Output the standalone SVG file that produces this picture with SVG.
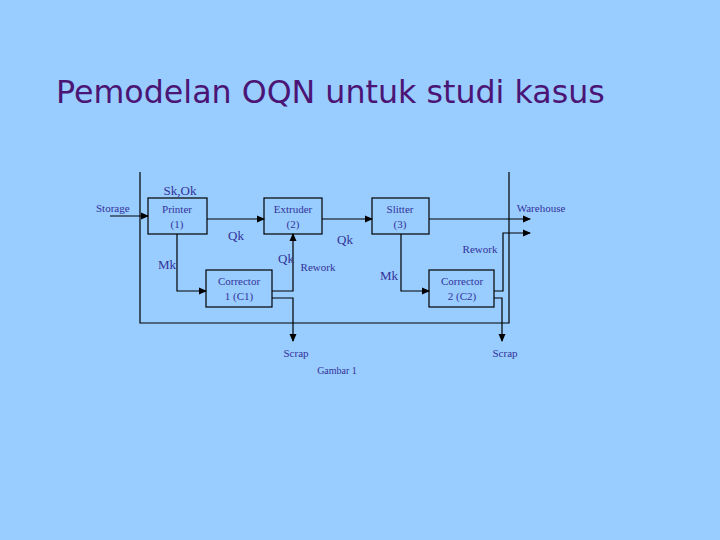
<svg xmlns="http://www.w3.org/2000/svg" width="720" height="540" viewBox="0 0 720 540">
<defs>
<marker id="ar" markerWidth="8" markerHeight="8" refX="7" refY="4" orient="auto" markerUnits="userSpaceOnUse"><path d="M0,0.5 L8,4 L0,7.5 Z" fill="#000"/></marker>
<style>
.b{fill:none;stroke:#000;stroke-width:1.2}
.l{fill:none;stroke:#000;stroke-width:1.2}
.a{fill:none;stroke:#000;stroke-width:1.2;marker-end:url(#ar)}
text{font-family:"Liberation Serif",serif;fill:#333399;font-size:11px}
.c{text-anchor:middle}
.m{font-size:13px}
</style>
</defs>
<rect width="720" height="540" fill="#99CCFF"/>
<text x="56" y="103" style="font-family:'DejaVu Sans',sans-serif;font-size:31.7px;fill:#4B1575">Pemodelan OQN untuk studi kasus</text>
<g id="boundary"><path class="l" d="M140,172 V323 H509 V172"/></g>
<g id="printer"><rect class="b" x="148" y="198" width="59" height="36"/><text class="c" x="177" y="213">Printer</text><text class="c" x="177" y="228">(1)</text></g>
<g id="extruder"><rect class="b" x="264" y="198" width="58" height="36"/><text class="c" x="293" y="213">Extruder</text><text class="c" x="293" y="228">(2)</text></g>
<g id="slitter"><rect class="b" x="372" y="198" width="57" height="36"/><text class="c" x="400" y="213">Slitter</text><text class="c" x="400" y="228">(3)</text></g>
<g id="c1"><rect class="b" x="206" y="270" width="66" height="37"/><text class="c" x="239" y="285">Corrector</text><text class="c" x="239" y="300">1 (C1)</text></g>
<g id="c2"><rect class="b" x="429" y="270" width="65" height="37"/><text class="c" x="462" y="285">Corrector</text><text class="c" x="462" y="300">2 (C2)</text></g>
<g id="connectors">
<path class="a" d="M110,216 H148"/>
<path class="a" d="M207,219 H264"/>
<path class="a" d="M322,219 H372"/>
<path class="a" d="M429,219 H530"/>
<path class="a" d="M177,234 V291 H206"/>
<path class="a" d="M401,234 V291 H429"/>
<path class="a" d="M272,291 H293 V234"/>
<path class="a" d="M272,298 H293 V341"/>
<path class="a" d="M494,291 H503 V233 H530"/>
<path class="a" d="M494,298 H502 V341"/>
</g>
<g id="labels">
<text x="96" y="212">Storage</text>
<text class="c m" x="180" y="195">Sk,Ok</text>
<text class="c m" x="236" y="240">Qk</text>
<text class="c m" x="345" y="244">Qk</text>
<text class="c m" x="286" y="263">Qk</text>
<text class="c m" x="167" y="269">Mk</text>
<text class="c" x="318" y="271">Rework</text>
<text class="c m" x="389" y="280">Mk</text>
<text class="c" x="480" y="253">Rework</text>
<text class="c" x="541" y="212">Warehouse</text>
<text class="c" x="296" y="357">Scrap</text>
<text class="c" x="505" y="357">Scrap</text>
<text class="c" style="font-size:10px" x="337" y="374">Gambar 1</text>
</g>
</svg>
